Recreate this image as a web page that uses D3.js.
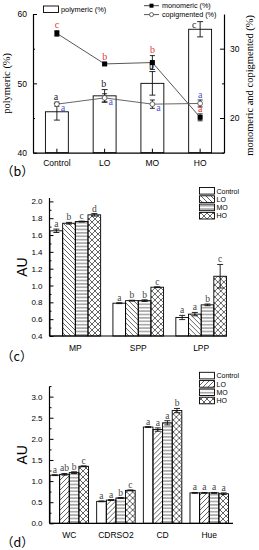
<!DOCTYPE html>
<html>
<head>
<meta charset="utf-8">
<script src="https://cdn.jsdelivr.net/npm/d3@7"></script>
<style>
  body { margin: 0; background: #fff; }
  svg { display: block; }
  .tick text { font-family: "Liberation Sans", Arial, sans-serif; }
</style>
</head>
<body>
<svg id="chart"></svg>
<script>
// ---- panel (b) data
const cats = ['Control', 'LO', 'MO', 'HO'];
const polymeric = [45.9, 48.2, 50.0, 57.8];
const polymericErr = [1.2, 0.9, 1.7, 1.1];
const polymericSig = ['a', 'b', 'b', 'c'];
const monomeric = [32.2, 27.8, 28.0, 20.1];
const monomericErr = [0.4, 0.2, 1.0, 0.5];
const monomericSig = ['c', 'b', 'b', 'a'];
const copigmented = [22.0, 22.9, 22.0, 22.1];
const copigmentedErr = [0.3, 0.6, 0.6, 0.5];
const copigmentedSig = ['a', 'a', 'a', 'a'];

// ---- panel (c) data
const cGroups = ['MP', 'SPP', 'LPP'];
const cValues = [
  [1.65, 1.74, 1.76, 1.84],
  [0.79, 0.82, 0.82, 0.98],
  [0.62, 0.66, 0.77, 1.11]
];
const cErr = [
  [0.02, 0.01, 0.005, 0.015],
  [0.005, 0.005, 0.01, 0.005],
  [0.025, 0.02, 0.01, 0.14]
];
const cSig = [
  ['a', 'b', 'c', 'd'],
  ['a', 'b', 'b', 'c'],
  ['a', 'a', 'b', 'c']
];
const cTicks = [0.4, 0.6, 0.8, 1.0, 1.2, 1.4, 1.6, 1.8, 2.0];

// ---- panel (d) data
const dGroups = ['WC', 'CDRSO2', 'CD', 'Hue'];
const dValues = [
  [1.14, 1.16, 1.20, 1.35],
  [0.52, 0.55, 0.60, 0.78],
  [2.28, 2.22, 2.38, 2.67],
  [0.72, 0.72, 0.72, 0.70]
];
const dErr = [
  [0.01, 0.02, 0.02, 0.01],
  [0.01, 0.01, 0.01, 0.01],
  [0.01, 0.04, 0.05, 0.05],
  [0.01, 0.01, 0.01, 0.02]
];
const dSig = [
  ['a', 'ab', 'b', 'c'],
  ['a', 'a', 'b', 'c'],
  ['a', 'a', 'a', 'b'],
  ['a', 'a', 'a', 'a']
];
const dTicks = [0.0, 0.5, 1.0, 1.5, 2.0, 2.5, 3.0];

const width = 259, height = 550;
const sans = '"Liberation Sans", Arial, sans-serif';
const serif = '"Liberation Serif", "Times New Roman", serif';

const svg = d3.select('#chart')
  .attr('width', width)
  .attr('height', height)
  .attr('viewBox', [0, 0, width, height]);

svg.append('rect').attr('width', width).attr('height', height).attr('fill', '#fff');

// hatch patterns
const defs = svg.append('defs');
function pattern(id, w, h, d) {
  defs.append('pattern')
    .attr('id', id)
    .attr('patternUnits', 'userSpaceOnUse')
    .attr('width', w).attr('height', h)
    .append('path')
    .attr('d', d)
    .attr('stroke', '#222')
    .attr('stroke-width', 0.7)
    .attr('fill', 'none');
}
pattern('back', 5, 5, 'M0,0L5,5M-1,4L1,6M4,-1L6,1');
pattern('fwd', 5, 5, 'M0,5L5,0M-1,1L1,-1M4,6L6,4');
pattern('horiz', 5, 3.4, 'M0,1.7L5,1.7');
pattern('cross', 6, 6, 'M0,0L6,6M0,6L6,0');

function styleAxis(g, size) {
  g.selectAll('path.domain').attr('stroke', '#000').attr('stroke-width', 1.2);
  g.selectAll('.tick line').attr('stroke', '#000').attr('stroke-width', 1);
  g.selectAll('.tick text').attr('font-size', size).attr('fill', '#000');
}

// ================= panel (b) =================
(function () {
  const left = 33, right = 224, top = 14, bottom = 152.7;

  const x = d3.scaleBand().domain(cats).range([left, right])
    .paddingInner(0.52).paddingOuter(0.26);
  const yL = d3.scaleLinear().domain([40, 60]).range([bottom, top]);
  const yR = d3.scaleLinear().domain([15, 35]).range([bottom, top]);
  const cx = d => x(d) + x.bandwidth() / 2;

  // bars
  svg.append('g').selectAll('rect')
    .data(cats)
    .enter().append('rect')
    .attr('x', d => x(d))
    .attr('y', (d, i) => yL(polymeric[i]))
    .attr('width', x.bandwidth())
    .attr('height', (d, i) => bottom - yL(polymeric[i]))
    .attr('fill', '#fff')
    .attr('stroke', '#000')
    .attr('stroke-width', 0.9);

  function errBars(vals, errs, y, cap) {
    const g = svg.append('g').attr('stroke', '#111').attr('stroke-width', 0.9);
    cats.forEach((c, i) => {
      const x0 = cx(c);
      g.append('line').attr('x1', x0).attr('x2', x0)
        .attr('y1', y(vals[i] + errs[i])).attr('y2', y(vals[i] - errs[i]));
      g.append('line').attr('x1', x0 - cap).attr('x2', x0 + cap)
        .attr('y1', y(vals[i] + errs[i])).attr('y2', y(vals[i] + errs[i]));
      g.append('line').attr('x1', x0 - cap).attr('x2', x0 + cap)
        .attr('y1', y(vals[i] - errs[i])).attr('y2', y(vals[i] - errs[i]));
    });
  }
  errBars(polymeric, polymericErr, yL, 3);

  // bar letters (the HO one sits beside its cap, as in the original)
  svg.append('g').selectAll('text')
    .data(cats)
    .enter().append('text')
    .attr('x', (d, i) => i === 3 ? cx(d) - 6 : cx(d) - 1)
    .attr('y', (d, i) => i === 3 ? yL(polymeric[i] + polymericErr[i]) + 6.2 : yL(polymeric[i] + polymericErr[i]) - 3)
    .attr('text-anchor', 'middle')
    .attr('font-family', serif)
    .attr('font-size', 10)
    .attr('fill', '#222')
    .text((d, i) => polymericSig[i]);

  // lines
  const line = y => d3.line().x(d => cx(d[0])).y(d => y(d[1]));
  svg.append('path')
    .datum(cats.map((c, i) => [c, monomeric[i]]))
    .attr('d', line(yR))
    .attr('fill', 'none').attr('stroke', '#444').attr('stroke-width', 0.9);
  svg.append('path')
    .datum(cats.map((c, i) => [c, copigmented[i]]))
    .attr('d', line(yR))
    .attr('fill', 'none').attr('stroke', '#555').attr('stroke-width', 0.9);

  errBars(monomeric, monomericErr, yR, 2.5);
  errBars(copigmented, copigmentedErr, yR, 2.5);

  svg.append('g').selectAll('rect')
    .data(cats)
    .enter().append('rect')
    .attr('x', d => cx(d) - 2.5)
    .attr('y', (d, i) => yR(monomeric[i]) - 2.5)
    .attr('width', 5).attr('height', 5)
    .attr('fill', '#000');

  svg.append('g').selectAll('circle')
    .data(cats)
    .enter().append('circle')
    .attr('cx', d => cx(d))
    .attr('cy', (d, i) => yR(copigmented[i]))
    .attr('r', 2.4)
    .attr('fill', '#fff')
    .attr('stroke', '#444')
    .attr('stroke-width', 0.8);

  // red / blue letters
  svg.append('g').selectAll('text')
    .data(cats)
    .enter().append('text')
    .attr('x', d => cx(d))
    .attr('y', (d, i) => i === 3 ? yR(monomeric[i]) - 5 : yR(monomeric[i] + monomericErr[i]) - 3)
    .attr('text-anchor', 'middle')
    .attr('font-family', serif)
    .attr('font-size', 10)
    .attr('fill', '#e0393b')
    .text((d, i) => monomericSig[i]);

  svg.append('g').selectAll('text')
    .data(cats)
    .enter().append('text')
    .attr('x', (d, i) => i === 3 ? cx(d) : cx(d) + 6)
    .attr('y', (d, i) => i === 3 ? yR(copigmented[i] + copigmentedErr[i]) - 2 : yR(copigmented[i]) + 7)
    .attr('text-anchor', 'middle')
    .attr('font-family', serif)
    .attr('font-size', 10)
    .attr('fill', '#4a5ad8')
    .text((d, i) => copigmentedSig[i]);

  // axes
  const gL = svg.append('g').attr('transform', `translate(${left},0)`)
    .call(d3.axisLeft(yL).tickValues([40, 50, 60]).tickSizeInner(-4).tickSizeOuter(0).tickPadding(6));
  styleAxis(gL, 8.5);
  const gLm = svg.append('g').attr('transform', `translate(${left},0)`)
    .call(d3.axisLeft(yL).tickValues([45, 55]).tickSize(-2).tickFormat(''));
  gLm.select('.domain').remove();
  styleAxis(gLm, 8);

  const gR = svg.append('g').attr('transform', `translate(${right},0)`)
    .call(d3.axisRight(yR).tickValues([20, 30]).tickSizeInner(-4).tickSizeOuter(0).tickPadding(6));
  styleAxis(gR, 8.5);
  const gRm = svg.append('g').attr('transform', `translate(${right},0)`)
    .call(d3.axisRight(yR).tickValues([15, 25]).tickSize(-2).tickFormat(''));
  gRm.select('.domain').remove();
  styleAxis(gRm, 8);

  const gB = svg.append('g').attr('transform', `translate(0,${bottom})`)
    .call(d3.axisBottom(x).tickSizeInner(-4).tickSizeOuter(0).tickPadding(7));
  styleAxis(gB, 8.5);

  // axis titles
  svg.append('text')
    .attr('transform', `translate(10,${(top + bottom) / 2}) rotate(-90)`)
    .attr('text-anchor', 'middle')
    .attr('font-family', serif).attr('font-size', 10.5)
    .text('polymeric (%)');
  svg.append('text')
    .attr('transform', `translate(253,${(top + bottom) / 2 + 2}) rotate(-90)`)
    .attr('text-anchor', 'middle')
    .attr('font-family', serif).attr('font-size', 10.5)
    .text('monomeric and copigmented (%)');

  // legend
  svg.append('rect').attr('x', 43.5).attr('y', 6).attr('width', 15).attr('height', 6.5)
    .attr('fill', '#fff').attr('stroke', '#000').attr('stroke-width', 0.9);
  svg.append('text').attr('x', 61).attr('y', 12).attr('font-family', sans).attr('font-size', 7.4)
    .text('polymeric (%)');

  const lg = svg.append('g');
  lg.append('line').attr('x1', 144).attr('x2', 159).attr('y1', 5.7).attr('y2', 5.7).attr('stroke', '#444');
  lg.append('rect').attr('x', 149.5).attr('y', 3.7).attr('width', 4).attr('height', 4).attr('fill', '#000');
  lg.append('text').attr('x', 162).attr('y', 8.3).attr('font-family', sans).attr('font-size', 7.2)
    .text('monomeric (%)');
  lg.append('line').attr('x1', 144).attr('x2', 159).attr('y1', 14.6).attr('y2', 14.6).attr('stroke', '#555');
  lg.append('circle').attr('cx', 151.5).attr('cy', 14.6).attr('r', 2).attr('fill', '#fff').attr('stroke', '#444').attr('stroke-width', 0.8);
  lg.append('text').attr('x', 162).attr('y', 16.8).attr('font-family', sans).attr('font-size', 7.2)
    .text('copigmented (%)');

  svg.append('text').attr('x', 1).attr('y', 176)
    .attr('font-family', '"Noto Sans CJK SC", sans-serif').attr('font-size', 12.5)
    .text('（b）');
})();

// ================= grouped bar panels =================
function groupedPanel(opt) {
  const { groups, values, errs, sigs, ticks, domain, left, right, top, bottom, minorStep, axisTop, fills, legendTop, label, labelY, bandPad } = opt;

  const x0 = d3.scaleBand().domain(groups).range([left, right]).paddingInner(bandPad).paddingOuter(0);
  const x1 = d3.scaleBand().domain(cats).range([0, x0.bandwidth()]);
  const y = d3.scaleLinear().domain(domain).range([bottom, top]);

  const g = svg.append('g');
  const grp = g.selectAll('g.grp')
    .data(groups)
    .enter().append('g')
    .attr('transform', d => `translate(${x0(d)},0)`);

  grp.each(function (gname, gi) {
    const sel = d3.select(this);
    cats.forEach((c, ci) => {
      const v = values[gi][ci], e = errs[gi][ci];
      const bx = x1(c), bw = x1.bandwidth();
      sel.append('rect')
        .attr('x', bx).attr('y', y(v))
        .attr('width', bw).attr('height', bottom - y(v))
        .attr('fill', fills[ci])
        .attr('stroke', '#000').attr('stroke-width', 0.9);
      const mx = bx + bw / 2;
      const eg = sel.append('g').attr('stroke', '#111').attr('stroke-width', 0.9);
      eg.append('line').attr('x1', mx).attr('x2', mx).attr('y1', y(v + e)).attr('y2', y(v - e));
      eg.append('line').attr('x1', mx - 3).attr('x2', mx + 3).attr('y1', y(v + e)).attr('y2', y(v + e));
      eg.append('line').attr('x1', mx - 3).attr('x2', mx + 3).attr('y1', y(v - e)).attr('y2', y(v - e));
      sel.append('text')
        .attr('x', mx).attr('y', y(v + e) - 2)
        .attr('text-anchor', 'middle')
        .attr('font-family', serif).attr('font-size', 9.5)
        .attr('fill', '#444')
        .text(sigs[gi][ci]);
    });
  });

  // y axis
  const yAxisG = svg.append('g').attr('transform', `translate(${left - 0.5},0)`)
    .call(d3.axisLeft(y).tickValues(ticks).tickSizeInner(-4).tickSizeOuter(0).tickPadding(7)
      .tickFormat(d3.format('.1f')));
  yAxisG.select('.domain').attr('d', `M0,${y(axisTop)}V${bottom}`);
  styleAxis(yAxisG, 8);
  const minor = ticks.slice(0, -1).map(t => t + minorStep);
  if (axisTop > ticks[ticks.length - 1] + minorStep / 2) minor.push(ticks[ticks.length - 1] + minorStep);
  const ym = svg.append('g').attr('transform', `translate(${left - 0.5},0)`)
    .call(d3.axisLeft(y).tickValues(minor).tickSize(-2).tickFormat(''));
  ym.select('.domain').remove();
  styleAxis(ym, 8);

  // x axis
  const xAxisG = svg.append('g').attr('transform', `translate(0,${bottom})`)
    .call(d3.axisBottom(x0).tickSize(0).tickPadding(9));
  xAxisG.select('.domain').attr('d', `M${left - 0.5},0H${opt.axisRight}`);
  styleAxis(xAxisG, 8.5);

  svg.append('text')
    .attr('transform', `translate(27,${(top + bottom) / 2}) rotate(-90)`)
    .attr('text-anchor', 'middle')
    .attr('font-family', sans).attr('font-size', 14)
    .text('AU');

  // legend
  const lg = svg.append('g');
  cats.forEach((c, i) => {
    const ly = legendTop + i * 8.3;
    lg.append('rect').attr('x', 199.5).attr('y', ly).attr('width', 15).attr('height', 6.6)
      .attr('fill', fills[i]).attr('stroke', '#000').attr('stroke-width', 0.9);
    lg.append('text').attr('x', 216.5).attr('y', ly + 6)
      .attr('font-family', sans).attr('font-size', 7)
      .text(c);
  });

  svg.append('text').attr('x', 1).attr('y', labelY)
    .attr('font-family', '"Noto Sans CJK SC", sans-serif').attr('font-size', 12.5)
    .text(label);
}

groupedPanel({
  groups: cGroups, values: cValues, errs: cErr, sigs: cSig,
  ticks: cTicks, domain: [0.4, 2.04], axisTop: 2.04, minorStep: 0.1,
  left: 50, right: 226.5, axisRight: 227, top: 198, bottom: 336, bandPad: 0.195,
  fills: ['#fff', 'url(#back)', 'url(#horiz)', 'url(#cross)'],
  legendTop: 187.5, label: '（c）', labelY: 361
});

groupedPanel({
  groups: dGroups, values: dValues, errs: dErr, sigs: dSig,
  ticks: dTicks, domain: [0, 3.24], axisTop: 3.24, minorStep: 0.25,
  left: 50, right: 228.5, axisRight: 233, top: 386.5, bottom: 523.3, bandPad: 0.175,
  fills: ['#fff', 'url(#fwd)', 'url(#horiz)', 'url(#cross)'],
  legendTop: 372.3, label: '（d）', labelY: 547
});
</script>
</body>
</html>
